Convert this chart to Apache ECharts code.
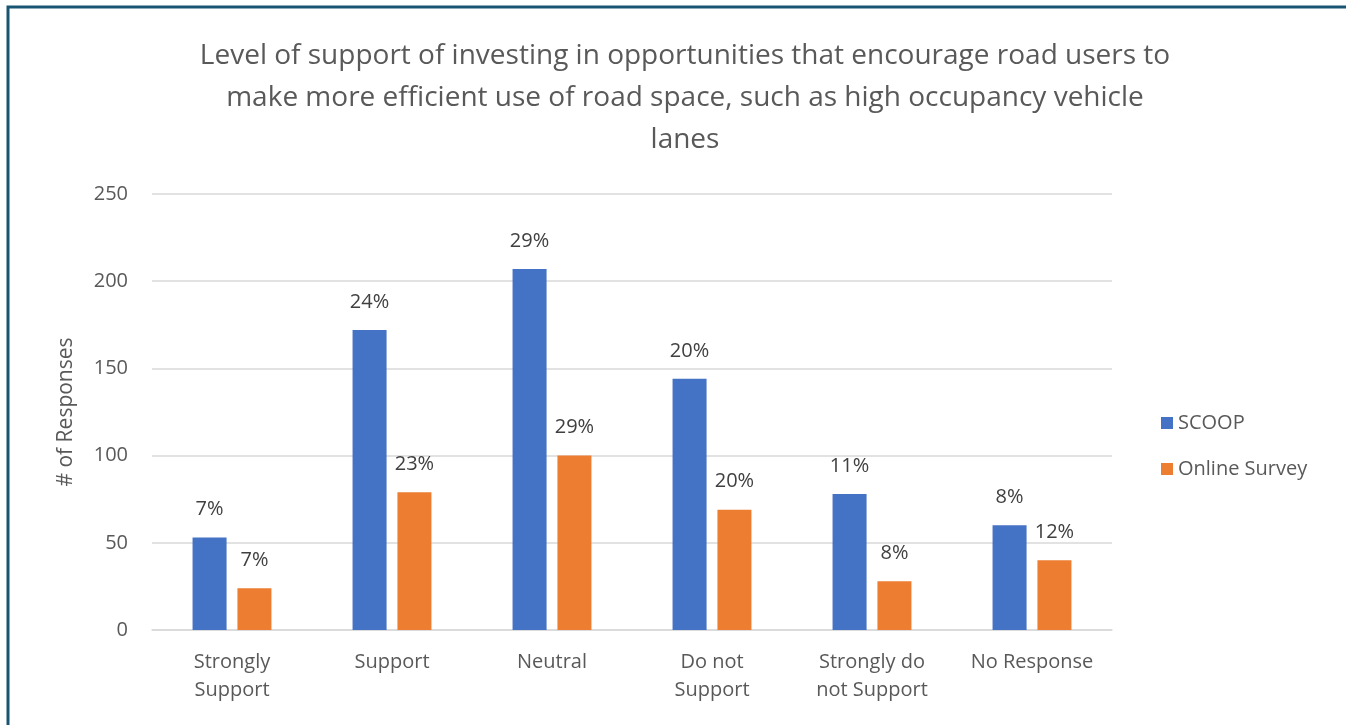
<!DOCTYPE html>
<html>
<head>
<meta charset="utf-8">
<script src="https://cdn.jsdelivr.net/npm/echarts@6/dist/echarts.min.js"></script>
<style>
  html, body { margin: 0; padding: 0; background: #fff; }
  #chart { width: 1346px; height: 725px; }
</style>
</head>
<body>
<div id="chart"></div>
<script>
var categories = ['Strongly\nSupport', 'Support', 'Neutral', 'Do not\nSupport', 'Strongly do\nnot Support', 'No Response'];
var scoopValues = [53, 172, 207, 144, 78, 60];
var onlineValues = [24, 79, 100, 69, 28, 40];
var scoopPct = ['7%', '24%', '29%', '20%', '11%', '8%'];
var onlinePct = ['7%', '23%', '29%', '20%', '8%', '12%'];
var yTicks = [0, 50, 100, 150, 200, 250];

var fontName = 'Open Sans';
var textColor = '#595959';

var myChart = echarts.init(document.getElementById('chart'));
var option = {
    backgroundColor: '#fff',
    animation: false,
    textStyle: { fontFamily: fontName },
    title: {
        text: 'Level of support of investing in opportunities that encourage road users to\nmake more efficient use of road space, such as high occupancy vehicle\nlanes',
        left: 680,
        top: 30,
        textAlign: 'center',
        textStyle: {
            fontFamily: fontName,
            fontSize: 28,
            fontWeight: 'normal',
            color: textColor,
            lineHeight: 42
        }
    },
    graphic: [{
        type: 'rect',
        shape: { x: 8, y: 7, width: 1400, height: 800 },
        style: { fill: 'none', stroke: '#1a5473', lineWidth: 3 }
    }],
    legend: {
        orient: 'vertical',
        left: 1156,
        top: 408,
        itemWidth: 12,
        itemHeight: 12,
        itemGap: 26,
        icon: 'rect',
        textStyle: { fontFamily: fontName, fontSize: 20, color: textColor },
        data: ['SCOOP', 'Online Survey']
    },
    grid: {
        left: 152,
        right: 234,
        top: 194,
        bottom: 95
    },
    xAxis: {
        type: 'category',
        data: categories,
        axisLine: { lineStyle: { color: '#d9d9d9', width: 1.5 } },
        axisTick: { show: false },
        axisLabel: {
            fontFamily: fontName,
            fontSize: 20,
            color: textColor,
            lineHeight: 28,
            margin: 18,
            interval: 0
        }
    },
    yAxis: {
        type: 'value',
        min: yTicks[0],
        max: yTicks[yTicks.length - 1],
        interval: 50,
        name: '# of Responses',
        nameLocation: 'middle',
        nameGap: 75,
        nameTextStyle: { fontFamily: fontName, fontSize: 21, color: textColor },
        axisLine: { show: false },
        axisTick: { show: false },
        splitLine: { lineStyle: { color: '#d9d9d9', width: 1.5 } },
        axisLabel: { fontFamily: fontName, fontSize: 20, color: textColor, margin: 24 }
    },
    series: [
        {
            name: 'SCOOP',
            type: 'bar',
            data: scoopValues,
            barWidth: 34,
            barGap: '32%',
            itemStyle: { color: '#4472c4' },
            label: {
                show: true,
                position: 'top',
                distance: 18,
                fontFamily: fontName,
                fontSize: 20,
                color: '#404040',
                formatter: function (p) { return scoopPct[p.dataIndex]; }
            }
        },
        {
            name: 'Online Survey',
            type: 'bar',
            data: onlineValues,
            barWidth: 34,
            itemStyle: { color: '#ed7d31' },
            label: {
                show: true,
                position: 'top',
                distance: 18,
                fontFamily: fontName,
                fontSize: 20,
                color: '#404040',
                formatter: function (p) { return onlinePct[p.dataIndex]; }
            }
        }
    ]
};
myChart.setOption(option);
</script>
</body>
</html>
